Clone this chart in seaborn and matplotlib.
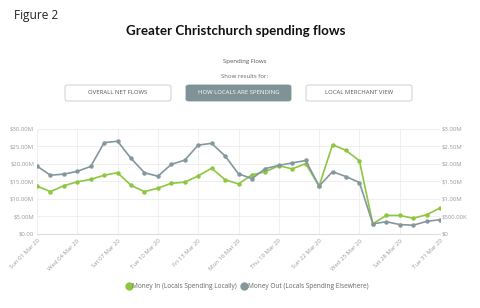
import matplotlib
matplotlib.use("Agg")
import matplotlib.pyplot as plt
import matplotlib.patches as mpatches
import matplotlib.lines as mlines
import seaborn as sns
import pandas as pd
import numpy as np

dates = pd.date_range("2020-03-01", "2020-03-31", freq="D")
money_in = [13.7, 12.1, 13.8, 14.9, 15.6, 16.8, 17.5, 13.9, 12.1, 13.1,
            14.5, 14.8, 16.6, 18.8, 15.5, 14.3, 16.9, 17.8, 19.5, 18.6, 20.1,
            13.7, 25.5, 23.9, 20.9, 2.9, 5.3, 5.3, 4.5, 5.5, 7.4]
money_out = [1.94, 1.68, 1.71, 1.79, 1.93, 2.61, 2.65, 2.16, 1.75, 1.65,
             1.99, 2.11, 2.54, 2.59, 2.23, 1.72, 1.58, 1.87, 1.96, 2.03, 2.10,
             1.37, 1.78, 1.64, 1.47, 0.29, 0.35, 0.27, 0.25, 0.36, 0.41]
left_ticks = [0, 5, 10, 15, 20, 25, 30]
left_labels = ["$0.00", "$5.00M", "$10.00M", "$15.00M", "$20.00M", "$25.00M", "$30.00M"]
right_ticks = [0, 0.5, 1.0, 1.5, 2.0, 2.5, 3.0]
right_labels = ["$0", "$500.00K", "$1.00M", "$1.50M", "$2.00M", "$2.50M", "$3.00M"]
tick_labels = ["Sun 01 Mar 20", "Wed 04 Mar 20", "Sat 07 Mar 20", "Tue 10 Mar 20",
               "Fri 13 Mar 20", "Mon 16 Mar 20", "Thu 19 Mar 20", "Sun 22 Mar 20",
               "Wed 25 Mar 20", "Sat 28 Mar 20", "Tue 31 Mar 20"]
series_names = ["Money In (Locals Spending Locally)", "Money Out (Locals Spending Elsewhere)"]

GREEN = "#8dc63f"
GRAY = "#84979c"
TXT = "#9a9a9a"

sns.set_theme(style="white")
plt.rcParams['font.family'] = ['Open Sans', 'DejaVu Sans']

df = pd.DataFrame({"day": np.arange(len(dates)), "in": money_in, "out": money_out})

fig = plt.figure(figsize=(4.81, 3.08), dpi=100)
ax = fig.add_axes([0.0769, 0.2403, 0.8379, 0.3409])
ax2 = ax.twinx()

sns.lineplot(data=df, x="day", y="in", ax=ax, color=GREEN, marker="o",
             markersize=3.2, markeredgewidth=0, linewidth=1.2, zorder=3)
sns.lineplot(data=df, x="day", y="out", ax=ax2, color=GRAY, marker="o",
             markersize=3.2, markeredgewidth=0, linewidth=1.2, zorder=2)

ax.set_xlim(0, 30)
ax.set_ylim(0, 30)
ax2.set_ylim(0, 3)
ax.set_yticks(left_ticks)
ax.set_yticklabels(left_labels)
ax2.set_yticks(right_ticks)
ax2.set_yticklabels(right_labels)
xt = list(range(0, 31, 3))
ax.set_xticks(xt)
ax.set_xticklabels(tick_labels, rotation=45, ha="right", rotation_mode="anchor")
ax.grid(True, color="#ececec", linewidth=0.6)
ax.set_axisbelow(True)
for a in (ax, ax2):
    a.set_xlabel("")
    a.set_ylabel("")
    for s in a.spines.values():
        s.set_visible(False)
    a.tick_params(length=0, labelsize=4.3, colors=TXT, pad=1.5)
ax.spines["bottom"].set_visible(True)
ax.spines["bottom"].set_color("#d5d5d5")
ax.spines["bottom"].set_linewidth(0.6)
ax.tick_params(axis="x", pad=3)
ax.tick_params(axis="y", pad=2)

# headings
fig.text(14/481, 1 - 15/308, "Figure 2", fontsize=8.6, color="#222222",
         family=["Open Sans", "DejaVu Sans"], va="center", ha="left")
fig.text(236/481, 1 - 31/308, "Greater Christchurch spending flows", fontsize=9.6,
         fontweight="bold", color="#111111", family=["Lato", "DejaVu Sans"],
         va="center", ha="center")
fig.text(245/481, 1 - 62/308, "Spending Flows", fontsize=4.3, color="#555555",
         va="center", ha="center")
fig.text(245/481, 1 - 77/308, "Show results for:", fontsize=4.3, color="#666666",
         va="center", ha="center")

buttons = [(65, 171, "OVERALL NET FLOWS", False),
           (186, 291, "HOW LOCALS ARE SPENDING", True),
           (306, 412, "LOCAL MERCHANT VIEW", False)]
for x0, x1, label, active in buttons:
    box = mpatches.FancyBboxPatch((x0/481, 1 - 101/308), (x1 - x0)/481, 16/308,
                                  boxstyle="round,pad=0,rounding_size=0.006",
                                  transform=fig.transFigure,
                                  facecolor="#7f9296" if active else "white",
                                  edgecolor="#7f9296" if active else "#c8c8c8",
                                  linewidth=0.6)
    fig.patches.append(box)
    fig.text((x0 + x1) / 2 / 481, 1 - 93/308, label, fontsize=4.3,
             color="white" if active else "#555555", va="center", ha="center")

# legend
handles = [mlines.Line2D([], [], color=GREEN, marker="o", linestyle="none", markersize=5),
           mlines.Line2D([], [], color=GRAY, marker="o", linestyle="none", markersize=5)]
fig.legend(handles, series_names, loc="center", bbox_to_anchor=(247/481, 1 - 287/308),
           ncol=2, frameon=False, fontsize=4.7, labelcolor="#666666",
           handletextpad=0.1, columnspacing=0.6, handlelength=1.0)

fig.savefig("out.png", dpi=100)
